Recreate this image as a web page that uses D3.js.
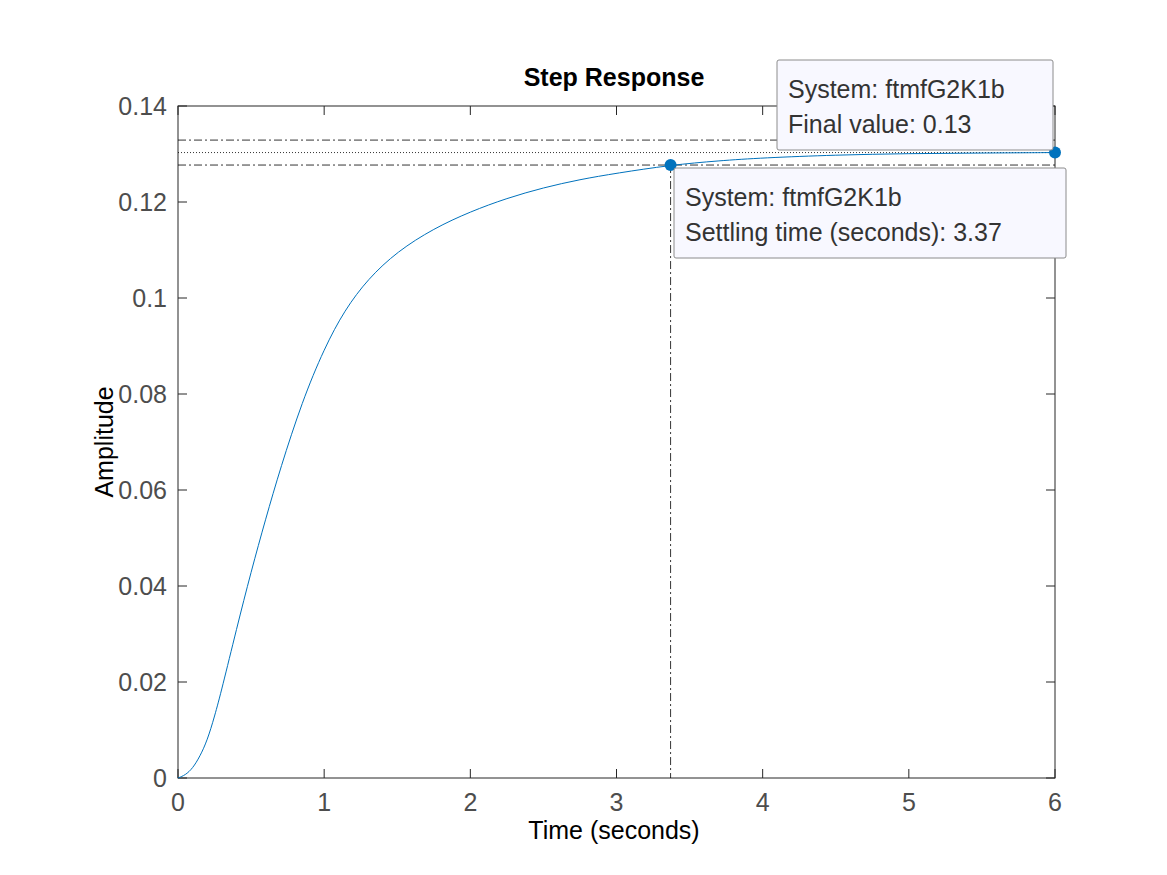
<!DOCTYPE html>
<html><head><meta charset="utf-8">
<script src="https://cdn.jsdelivr.net/npm/d3@7"></script>
<style>body{margin:0;background:#fff}text{font-family:"Liberation Sans",Arial,sans-serif}</style>
</head><body><svg id="c" width="1167" height="875"></svg>
<script>
// step response samples
var times = [0, 0.05, 0.1, 0.15, 0.2, 0.25, 0.3, 0.4, 0.5, 0.6, 0.7, 0.85, 1.0, 1.14, 1.3, 1.5, 1.75, 2.0, 2.25, 2.5, 2.75, 3.0, 3.37, 3.7, 4.0, 4.5, 5.0, 5.5, 6.0];
var amps  = [0, 0.0006, 0.002, 0.0045, 0.0078, 0.0128, 0.0185, 0.031, 0.043, 0.054, 0.0645, 0.0785, 0.0895, 0.0975, 0.1040, 0.1097, 0.1145, 0.1180, 0.1208, 0.1230, 0.1247, 0.1260, 0.1277, 0.1286, 0.1292, 0.1298, 0.1301, 0.1302, 0.1303];
var xTicks = [0, 1, 2, 3, 4, 5, 6];
var yTicks = [0, 0.02, 0.04, 0.06, 0.08, 0.1, 0.12, 0.14];
var finalValue = 0.1303, settleHi = 0.1329, settleLo = 0.1277, settleTime = 3.37;

var svg = d3.select("#c");
var x = d3.scaleLinear().domain([0, 6]).range([178, 1055]);
var y = d3.scaleLinear().domain([0, 0.14]).range([778, 106]);

svg.append("rect").attr("x", 178).attr("y", 106).attr("width", 877).attr("height", 672)
  .attr("fill", "#fff").attr("stroke", "#262626").attr("stroke-width", 1);

var tc = "#4d4d4d";
xTicks.forEach(function (t) {
  svg.append("line").attr("x1", x(t)).attr("x2", x(t)).attr("y1", 778).attr("y2", 769).attr("stroke", "#262626");
  svg.append("line").attr("x1", x(t)).attr("x2", x(t)).attr("y1", 106).attr("y2", 115).attr("stroke", "#262626");
  svg.append("text").attr("x", x(t)).attr("y", 811).attr("text-anchor", "middle").attr("font-size", 25).attr("fill", tc).text(t);
});
yTicks.forEach(function (t) {
  svg.append("line").attr("x1", 178).attr("x2", 187).attr("y1", y(t)).attr("y2", y(t)).attr("stroke", "#262626");
  svg.append("line").attr("x1", 1055).attr("x2", 1046).attr("y1", y(t)).attr("y2", y(t)).attr("stroke", "#262626");
  svg.append("text").attr("x", 167).attr("y", y(t) + 9).attr("text-anchor", "end").attr("font-size", 25).attr("fill", tc).text(t);
});

svg.append("text").attr("x", 614).attr("y", 86).attr("text-anchor", "middle").attr("font-size", 25).attr("font-weight", "bold").text("Step Response");
svg.append("text").attr("x", 614).attr("y", 839).attr("text-anchor", "middle").attr("font-size", 25).text("Time (seconds)");
svg.append("text").attr("transform", "translate(113,442) rotate(-90)").attr("text-anchor", "middle").attr("font-size", 25).text("Amplitude");

// reference lines
[settleHi, settleLo].forEach(function (v) {
  svg.append("line").attr("x1", 178).attr("x2", 1055).attr("y1", y(v)).attr("y2", y(v))
    .attr("stroke", "#000").attr("stroke-width", 0.8).attr("stroke-dasharray", "8,3,2,3");
});
svg.append("line").attr("x1", 178).attr("x2", 1055).attr("y1", y(finalValue)).attr("y2", y(finalValue))
  .attr("stroke", "#000").attr("stroke-width", 0.8).attr("stroke-dasharray", "1,2");
svg.append("line").attr("x1", x(settleTime)).attr("x2", x(settleTime)).attr("y1", y(settleLo)).attr("y2", 778)
  .attr("stroke", "#000").attr("stroke-width", 0.8).attr("stroke-dasharray", "8,3,2,3");

var line = d3.line().x(function (d, i) { return x(times[i]); }).y(function (d) { return y(d); }).curve(d3.curveBasis);
svg.append("path").attr("d", line(amps)).attr("fill", "none").attr("stroke", "#0072bd").attr("stroke-width", 1);

svg.append("circle").attr("cx", x(settleTime)).attr("cy", y(settleLo)).attr("r", 6).attr("fill", "#0072bd");
svg.append("circle").attr("cx", x(6)).attr("cy", y(finalValue)).attr("r", 6).attr("fill", "#0072bd");

function tip(x0, y0, w, h, lines) {
  svg.append("rect").attr("x", x0).attr("y", y0).attr("width", w).attr("height", h).attr("rx", 2)
    .attr("fill", "#f8f8ff").attr("stroke", "#8c8c8c");
  lines.forEach(function (s, i) {
    svg.append("text").attr("x", x0 + 11).attr("y", y0 + 38 + i * 35).attr("font-size", 25).attr("fill", "#333").text(s);
  });
}
tip(777, 60, 276, 90, ["System: ftmfG2K1b", "Final value: 0.13"]);
tip(674, 168, 392, 90, ["System: ftmfG2K1b", "Settling time (seconds): 3.37"]);
</script></body></html>
